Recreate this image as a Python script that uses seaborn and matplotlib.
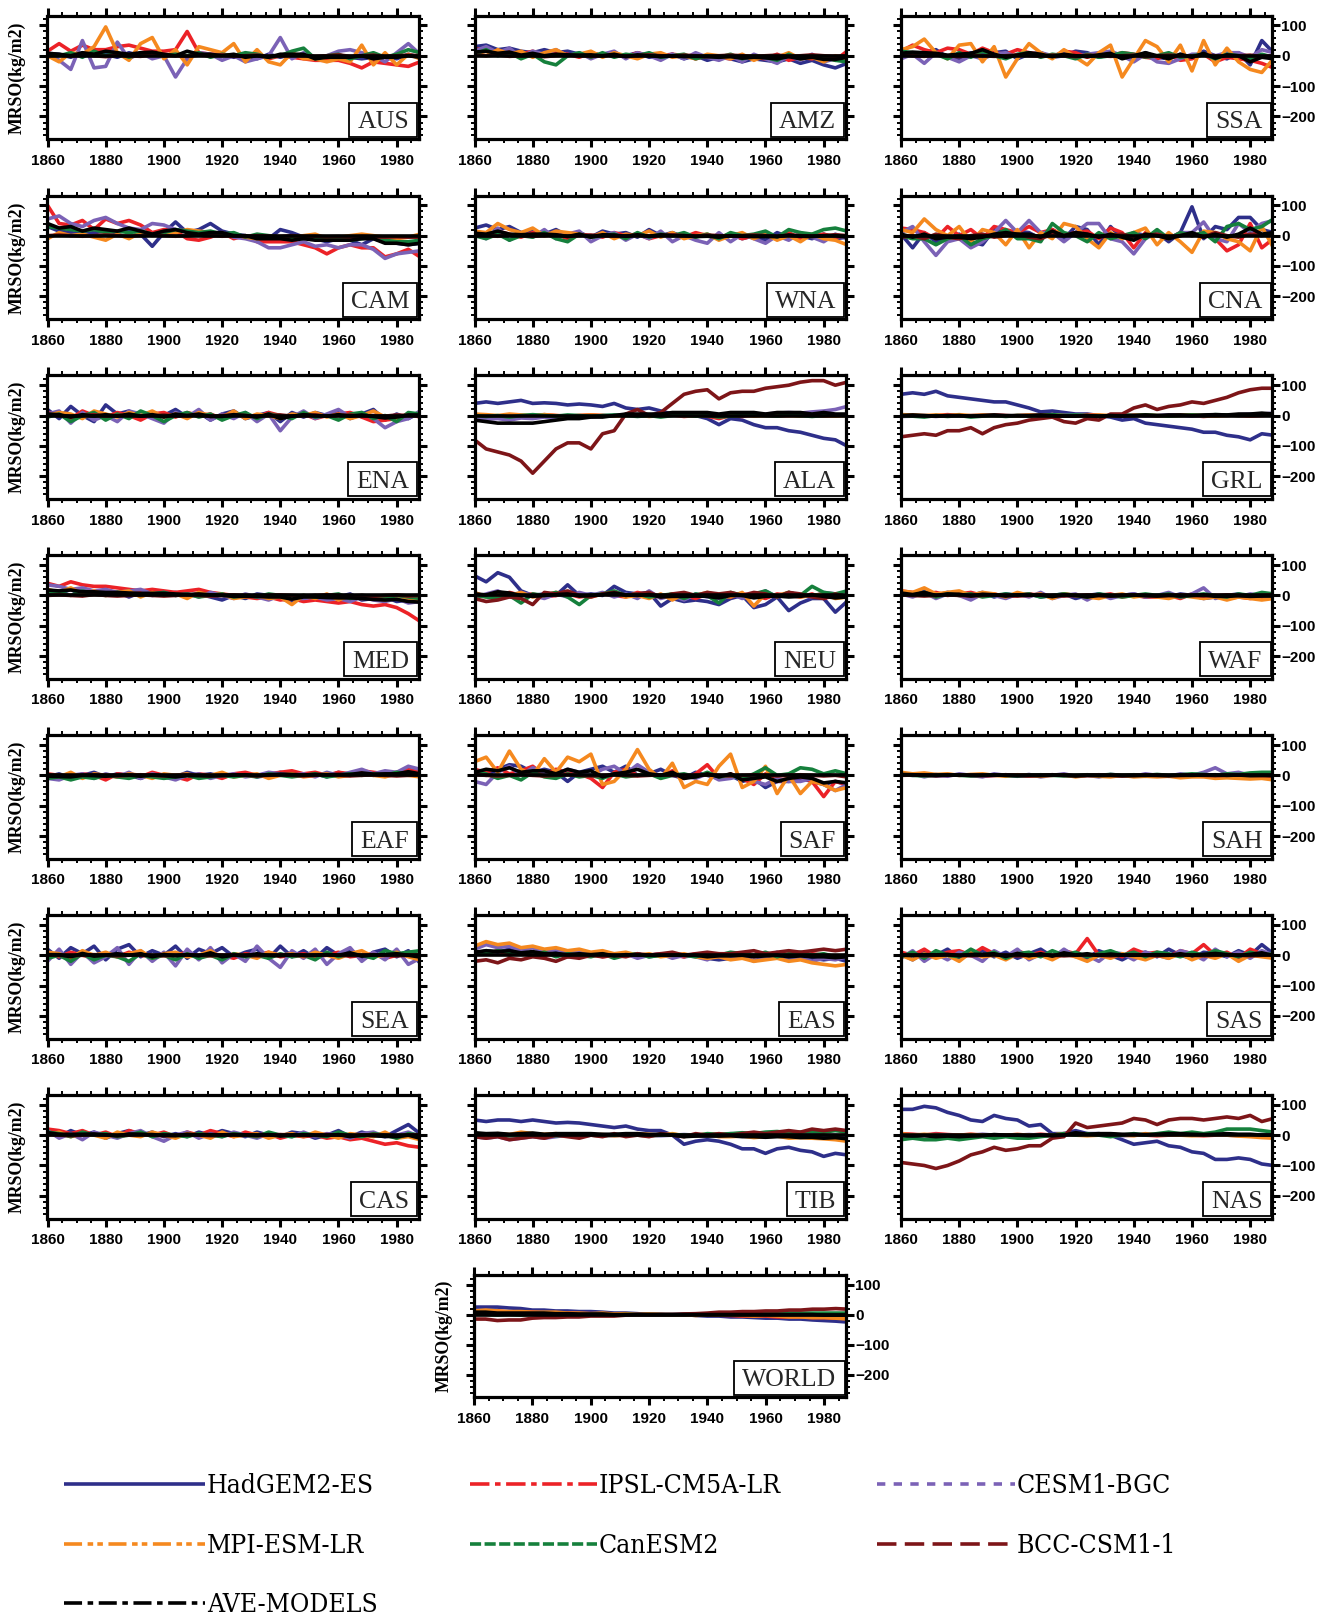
import numpy as np
import pandas as pd
import matplotlib
matplotlib.use("Agg")
import matplotlib.pyplot as plt
import seaborn as sns
from matplotlib.ticker import MultipleLocator
from matplotlib.patches import Rectangle

# ---------------- data (kg/m2 anomalies, sampled every 4 years) ----------------
YEARS = list(range(1860, 1989, 4))
MODELS = ["HadGEM2-ES", "IPSL-CM5A-LR", "CESM1-BGC", "MPI-ESM-LR", "CanESM2", "BCC-CSM1-1", "AVE-MODELS"]
KEYS = ["HAD", "IPSL", "CESM", "MPI", "CAN", "BCC", "AVE"]
REGIONS = ["AUS", "AMZ", "SSA", "CAM", "WNA", "CNA", "ENA", "ALA", "GRL", "MED", "NEU", "WAF",
           "EAF", "SAF", "SAH", "SEA", "EAS", "SAS", "CAS", "TIB", "NAS", "WORLD"]

AUS_HAD = [8,5,-5,10,0,5,-5,10,0,5,0, 5,-5,10,0,5,-5,0,-10,5,-5,5, 0,-5,-10,0,-5,-10,-5,0,-10,5,-5]
AUS_IPSL = [15,40,15,35,20,20,30,35,25,15,15, 20,80,10,5,5,0,-5,5,-10,0,-5, -10,-15,-15,-15,-25,-40,-20,-25,-30,-35,-20]
AUS_CESM = [10,-15,-45,50,-40,-35,45,-10,10,-10,0, -70,-10,10,5,-15,0,-20,-10,0,60,-10, 10,-5,0,15,20,10,0,-20,10,40,5]
AUS_MPI = [0,-20,10,5,30,95,10,-15,40,60,-10, 20,-30,30,20,10,40,-20,20,-20,-30,10, -10,-10,-20,-10,-20,35,-30,10,-30,5,-10]
AUS_CAN = [5,0,10,-5,15,0,10,-5,5,10,0, 5,0,10,-5,5,0,10,5,-5,0,15, 25,-10,0,5,-10,0,10,-5,5,20,10]
AUS_BCC = [0,2,-2,3,0,-3,2,0,-2,3,0, 0,-2,2,0,3,-2,0,2,-3,0,2, 0,-2,0,3,-2,0,2,-3,0,2,0]
AUS_AVE = [8,5,0,10,5,15,10,5,10,12,5, 0,15,5,5,0,5,-5,0,-5,5,5, 5,-10,-5,-5,-5,0,-10,-5,-5,0,-5]

AMZ_HAD = [30,35,20,25,15,10,20,10,15,5,10, 0,5,0,10,-5,0,5,-10,0,-15,-5, -10,-20,-10,-15,-20,-10,-25,-15,-30,-40,-25]
AMZ_IPSL = [20,25,10,15,5,15,0,10,5,-5,10, 0,5,-5,10,0,-5,5,0,-10,0,-5, -10,0,-5,-10,5,-15,-5,-10,0,-15,15]
AMZ_CESM = [15,30,10,25,-5,15,5,20,0,10,-10, 5,15,-10,10,0,-15,5,-10,10,-5,-15, 0,-20,5,-10,-25,0,-15,5,-20,-10,0]
AMZ_MPI = [10,0,20,5,15,-5,10,20,0,5,15, -5,10,0,-10,5,10,-5,0,-10,5,0, -10,5,-15,0,-5,10,-10,-5,-20,0,-10]
AMZ_CAN = [5,20,0,10,-10,5,-20,-30,0,10,-5, 10,-5,5,0,10,-5,0,5,-10,0,-5, 5,-10,0,-5,-15,5,-10,0,-5,-15,-20]
AMZ_BCC = [2,0,3,-2,0,2,-3,0,2,0,-2, 0,2,-2,0,3,0,-2,2,0,-3,0, 2,0,-2,0,2,-2,0,3,0,-2,0]
AMZ_AVE = [12,15,8,12,2,8,0,5,3,2,3, 0,5,-3,3,0,-3,0,-3,-2,-3,-5, -3,-8,-5,-7,-10,-3,-10,-5,-12,-12,-5]

SSA_HAD = [5,0,10,20,-5,-10,10,5,10,15,-10, 5,10,-5,0,15,10,-5,5,0,-10,10, -5,-10,5,-5,15,0,-10,10,-30,50,10]
SSA_IPSL = [15,35,20,10,25,20,5,25,10,5,20, 10,5,-5,15,10,-5,5,0,10,5,-5, -10,5,-15,-10,5,-20,-5,-10,-15,-25,-40]
SSA_CESM = [-10,5,-25,10,-5,-20,0,-10,5,10,-5, 5,10,0,10,-5,5,10,15,0,-20,5, -20,-25,-10,5,5,0,10,10,-5,20,10]
SSA_MPI = [20,30,55,10,-10,35,40,-20,30,-70,-10, 40,10,-10,20,-5,-30,10,35,-70,-10,50, 30,-20,35,-50,50,-30,25,-20,-45,-55,-10]
SSA_CAN = [15,10,0,5,-10,10,-5,15,0,-10,5, 10,-5,5,0,-10,5,-5,0,10,5,-5, 0,10,-5,0,5,-10,5,0,-10,5,-5]
SSA_BCC = [3,0,-2,2,0,-3,2,0,-2,0,3, 0,-2,2,0,-3,2,0,-2,0,2,-3, 0,2,0,-2,3,0,-2,0,2,-3,0]
SSA_AVE = [8,12,10,8,2,5,8,20,5,-5,2, 10,5,-3,5,0,-3,3,8,-10,0,10, 0,-10,5,-5,8,-8,3,0,-20,-5,-10]

CAM_HAD = [30,15,10,5,10,15,10,20,5,-35,10, 45,10,20,40,15,5,0,-10,-10,20,10, -5,-10,-20,-10,-15,-30,-10,-20,-25,-30,-25]
CAM_IPSL = [100,40,35,50,20,55,40,50,35,10,20, 15,-10,-15,-5,10,-10,0,-20,-20,-20,-20, -30,-40,-60,-40,-30,-40,-40,-70,-60,-45,-70]
CAM_CESM = [55,65,40,30,50,60,40,25,20,40,35, 20,15,10,5,10,-5,-10,-20,-40,-40,-30, -20,-35,-30,-40,-30,-30,-45,-75,-60,-55,-50]
CAM_MPI = [-10,10,0,5,-5,-15,5,-10,10,0,5, 10,20,15,10,0,5,-5,-10,-5,-5,-10, 0,5,-10,-5,0,5,0,-5,-10,-5,5]
CAM_CAN = [30,25,20,15,20,10,15,10,15,5,10, 20,15,10,15,5,10,-5,5,0,-5,-10, -5,-10,-15,-10,-15,-10,-5,-15,-20,-20,-15]
CAM_BCC = [0,2,0,-2,0,2,0,-2,0,2,0, -2,0,2,0,-2,0,-3,0,-2,-3,0, -3,-2,-4,-3,-5,-3,-4,-5,-4,-5,-5]
CAM_AVE = [40,25,30,15,25,20,15,25,15,5,15, 20,10,5,10,10,0,0,-10,-10,-10,-15, -10,-15,-15,-15,-15,-10,-10,-25,-25,-30,-25]

WNA_HAD = [25,35,20,30,10,15,5,20,0,10,-5, 15,5,10,-5,20,0,10,-5,5,0,-10, 5,-10,0,-15,10,-5,0,-10,5,-10,-5]
WNA_IPSL = [10,0,15,5,-5,10,0,5,-10,5,0, -5,10,0,5,-10,0,5,-5,10,0,-5, 5,-10,0,5,-5,10,-10,0,5,-5,0]
WNA_CESM = [5,-10,25,-15,10,-5,20,-10,5,15,-20, 0,10,-15,5,-10,15,-20,0,-15,-25,10, -20,5,-10,-25,0,-15,10,-5,-20,5,-10]
WNA_MPI = [15,10,40,20,10,25,0,15,10,5,-5, 10,-10,5,0,15,-5,10,-10,0,5,-15, 0,10,-10,5,-15,0,-20,5,-10,-15,-30]
WNA_CAN = [0,-10,5,-15,0,-5,10,-10,-20,5,-5, 0,5,-10,10,-5,5,0,10,-5,5,-10, 10,0,5,15,-5,20,10,5,20,25,15]
WNA_BCC = [2,0,-2,3,0,-2,0,2,-3,0,2, 0,-2,0,2,-2,0,3,0,-2,2,0, -2,0,2,0,-3,2,0,-2,0,3,0]
WNA_AVE = [8,5,15,5,3,5,5,3,-3,5,-5, 3,2,-2,3,-2,3,0,0,-3,-2,-5, 0,-2,-3,-3,-3,2,-2,-3,0,0,-5]

CNA_HAD = [5,-40,10,-20,-10,5,-20,-30,20,10,15, 10,-10,20,-10,30,20,-30,30,-10,10,0, 10,-20,10,95,-10,30,20,60,60,20,10]
CNA_IPSL = [25,20,10,-10,30,0,20,-10,30,20,10, 30,10,20,0,10,15,-10,25,10,-40,10, 0,-10,10,0,10,-10,-50,-30,40,-40,-10]
CNA_CESM = [10,30,-20,-65,-20,-10,-40,-20,10,50,10, 50,10,10,-20,10,40,40,-10,-20,-60,-10, 10,-10,10,10,45,-10,-20,40,10,40,50]
CNA_MPI = [20,10,55,20,0,30,-20,20,10,-30,20, -40,10,-10,40,30,-10,-40,10,-10,10,25, -30,10,-20,-55,15,10,-10,-20,-50,30,-40]
CNA_CAN = [0,-10,-10,-30,-10,0,-30,-10,0,20,-10, -10,-20,40,10,0,-20,10,-10,0,10,-10, 20,-10,10,0,10,-20,30,40,20,30,55]
CNA_BCC = [-5,0,-10,5,-5,-10,0,5,-5,0,5, -5,-10,5,0,10,5,-5,0,5,-5,0, 5,-5,0,5,-5,10,0,-5,5,0,10]
CNA_AVE = [5,-5,5,-10,-5,-5,-10,-5,5,10,5, 5,-5,15,0,10,5,-5,5,-5,-15,5, 0,-10,0,10,-5,5,-5,5,25,5,10]

ENA_HAD = [20,-10,30,0,-20,35,5,15,-10,10,0, 20,-5,10,-15,5,15,-10,0,10,-20,10, -5,10,0,15,-10,5,20,-15,5,-10,10]
ENA_IPSL = [10,5,-10,15,0,-5,10,0,-15,5,10, -5,10,0,5,-10,5,0,-5,10,0,-5, 5,-10,0,5,10,-5,-20,-15,-10,5,-5]
ENA_CESM = [5,15,-25,10,-15,0,-20,15,5,-10,-25, 10,-5,20,-15,5,-10,10,-20,5,-50,-5, 15,-10,5,20,-5,10,-10,-40,-20,-10,15]
ENA_MPI = [0,10,5,-10,15,5,-5,10,0,15,-5, 5,-10,10,0,-5,15,-10,5,0,-10,5, 0,10,-5,5,-10,0,15,-5,-10,5,0]
ENA_CAN = [-5,5,-20,0,10,-15,5,-10,15,0,-20, 0,10,-5,5,-15,0,10,-10,5,0,-10, 10,-5,0,-15,5,10,-10,0,-20,10,5]
ENA_BCC = [2,0,-2,0,3,-2,0,2,-2,0,2, -2,0,2,-3,0,2,0,-2,0,2,-2, 0,2,-2,0,2,-3,0,-2,2,0,-2]
ENA_AVE = [5,3,-5,3,-2,3,-2,5,-2,3,-5, 5,0,5,-3,-3,3,0,-5,5,-10,-2, 3,0,-2,3,-2,2,-3,-8,-5,2,2]

ALA_HAD = [40,45,40,45,50,40,42,40,35,38,35, 30,40,25,20,25,15,5,5,0,-10,-30, -10,-15,-30,-40,-40,-50,-55,-65,-75,-80,-100]
ALA_IPSL = [3,0,-3,2,0,-2,3,0,-2,0,2, 0,-2,3,0,-2,0,2,-3,0,-2,-10, 0,-3,2,0,-2,0,3,0,-2,0,2]
ALA_CESM = [-15,-12,-10,-15,-8,-10,-5,-8,-5,-3,-5, 0,0,3,0,2,0,3,0,2,3,0, 5,5,3,5,8,10,8,12,15,20,30]
ALA_MPI = [5,3,0,5,2,0,3,0,-2,0,2, 0,-2,0,2,-3,0,2,0,-2,0,-2, 0,2,-2,0,2,0,-2,2,0,-2,0]
ALA_CAN = [0,-3,0,-5,0,3,0,-2,2,0,-3, 0,2,0,-3,0,-5,0,2,-2,0,-5, -2,0,3,0,-2,2,0,-3,0,2,0]
ALA_BCC = [-80,-110,-120,-130,-150,-190,-150,-110,-90,-90,-110, -60,-50,5,20,0,10,40,70,80,85,55, 75,80,80,90,95,100,110,115,115,100,110]
ALA_AVE = [-15,-20,-25,-25,-25,-25,-20,-15,-10,-10,-5, -5,0,5,5,5,5,10,10,10,10,5, 10,10,10,5,10,10,10,5,10,5,5]

GRL_HAD = [70,75,70,80,65,60,55,50,45,45,35, 25,12,15,10,5,5,0,-5,-15,-10,-25, -30,-35,-40,-45,-55,-55,-65,-70,-80,-60,-65]
GRL_IPSL = [2,0,-2,0,3,0,-2,0,2,0,-2, 0,2,0,-2,0,3,0,-2,0,2,0, -2,0,2,0,-3,0,2,0,-2,0,2]
GRL_CESM = [-3,-2,0,-3,0,-2,0,2,0,-2,0, 2,0,-2,0,3,0,-2,0,2,0,-2, 0,2,0,-2,0,2,0,3,5,5,8]
GRL_MPI = [3,2,0,2,0,3,0,2,0,-2,0, 2,0,3,0,-2,0,2,0,-2,0,2, 0,-2,0,2,0,-2,0,2,0,3,0]
GRL_CAN = [0,-2,-5,0,-3,0,-5,-2,0,-3,0, -2,0,3,0,2,0,-2,0,3,0,2, 0,-2,0,2,0,3,2,0,3,2,0]
GRL_BCC = [-70,-65,-60,-65,-50,-50,-40,-60,-40,-30,-25, -15,-10,-5,-20,-25,-10,-15,5,5,25,35, 20,30,35,45,40,50,60,75,85,90,90]
GRL_AVE = [0,2,0,-2,0,0,-2,0,2,0,0, 0,2,0,-2,-2,0,-3,0,-2,0,2, 0,2,2,0,2,3,2,5,5,8,5]

MED_HAD = [10,5,20,0,15,5,10,-5,10,0,5, 10,0,5,-5,-15,0,-10,5,0,-10,-20, -5,0,-10,-5,5,-15,-10,-5,-20,-15,-10]
MED_IPSL = [40,30,45,35,30,30,25,20,15,20,15, 10,15,20,10,5,0,-5,-10,-5,-15,-10, -20,-15,-20,-25,-20,-30,-35,-30,-40,-60,-85]
MED_CESM = [35,30,20,25,15,20,10,15,20,5,10, 0,5,-5,10,0,-10,5,-5,-15,0,-10, -10,-5,-15,-10,-20,-5,-15,-20,-10,-25,-20]
MED_MPI = [20,10,25,5,15,0,10,15,-5,10,0, 5,-10,10,0,5,-10,-5,0,-10,-5,-30, 0,-10,5,-15,0,-10,-5,-15,0,-10,-15]
MED_CAN = [5,10,0,15,5,0,10,5,0,5,10, 0,5,-5,0,5,-5,0,-5,5,0,-5, 0,-5,0,5,-10,0,-5,-10,0,-5,-10]
MED_BCC = [0,2,0,-2,3,0,-2,0,2,0,-2, 0,3,0,-2,0,2,0,-3,0,2,0, -2,0,2,0,-2,0,-3,0,2,-2,0]
MED_AVE = [18,15,18,12,12,10,10,8,7,7,7, 5,3,5,2,0,-3,-3,-3,-5,-5,-12, -5,-5,-7,-8,-8,-10,-13,-15,-13,-20,-22]

NEU_HAD = [65,45,75,60,15,0,5,0,35,0,5, 0,30,10,5,10,-35,-10,-20,-15,-20,-30, -10,0,-40,-30,-5,-50,-25,-10,-10,-55,-20]
NEU_IPSL = [5,0,-5,10,0,5,-5,0,5,-5,0, 5,0,-5,10,0,-5,5,0,-10,5,0, -5,5,0,-10,5,0,-5,5,-10,0,-5]
NEU_CESM = [-10,5,15,-5,10,0,-10,5,-5,10,0, 10,-5,5,-10,15,-10,0,-15,5,-5,-10, 5,-10,0,15,-5,10,0,-5,10,5,-5]
NEU_MPI = [10,-5,5,0,10,-5,0,10,5,0,-5, 5,10,-5,0,-10,5,-15,5,0,10,0, -5,10,-35,5,0,10,-5,0,5,-10,-5]
NEU_CAN = [0,-5,-10,0,-25,5,0,10,-5,-30,0, 5,15,0,5,-5,0,5,-10,5,0,-25, 10,0,5,15,-5,10,0,30,10,5,15]
NEU_BCC = [-10,-20,-15,-5,-10,-30,10,5,15,0,-5, 5,10,0,5,10,-5,5,10,0,10,5, 10,0,10,5,-5,10,5,-5,-10,5,-5]
NEU_AVE = [5,2,12,8,0,-3,0,3,5,-2,0, 3,8,2,0,3,-5,-3,-3,-2,-3,-8, 0,0,-8,-3,-2,-5,-3,2,-3,-8,-5]

WAF_HAD = [10,5,15,0,10,5,0,10,-5,5,0, 5,-5,0,5,-10,0,5,-5,0,5,-5, 0,-5,5,0,-10,-5,0,5,-5,-10,-5]
WAF_IPSL = [15,10,5,10,0,5,10,0,5,-5,0, 5,0,-5,5,0,-5,0,5,-5,0,-5, -5,0,-10,5,-5,0,-10,-5,-10,-5,-10]
WAF_CESM = [5,-5,10,-10,5,0,-15,5,0,-10,5, -5,10,-10,0,5,-15,5,-10,0,5,-5, 0,10,-5,5,25,-10,0,-5,5,0,-5]
WAF_MPI = [15,10,25,5,10,15,0,10,5,-5,10, 0,5,-10,5,0,-5,-10,0,5,-5,0, -5,-10,0,-5,-10,-5,-15,-5,-10,-15,-10]
WAF_CAN = [5,0,10,-5,5,0,5,-5,0,5,0, 5,-5,0,5,0,-5,5,0,-5,0,5, 0,5,-5,0,5,0,-5,5,0,10,5]
WAF_BCC = [2,0,-2,0,2,0,-2,0,2,0,-2, 0,2,0,-2,0,2,0,-2,0,2,0, -2,0,2,0,-2,0,2,0,-2,0,2]
WAF_AVE = [8,3,10,0,5,4,-2,4,2,-2,2, 1,1,-4,2,0,-5,0,-2,0,1,-1, -2,0,-2,0,2,-3,-3,-1,-3,-2,-2]

EAF_HAD = [-5,5,-10,0,10,-5,5,0,-10,5,0, -5,10,0,5,-5,0,5,-5,0,10,5, 0,5,-5,10,0,5,0,10,5,15,5]
EAF_IPSL = [5,0,-10,5,0,-15,5,0,-5,10,0, -5,-15,5,0,-10,5,10,0,5,10,15, 5,10,0,10,5,15,10,5,10,20,10]
EAF_CESM = [-10,-15,0,5,-10,5,-5,10,-10,5,-5, -15,0,5,-10,0,5,-5,0,10,5,0, 5,-5,10,0,10,20,5,15,10,30,20]
EAF_MPI = [0,-5,10,-10,5,0,-5,5,0,-10,5, 0,5,-5,0,10,-5,0,5,-10,0,5, -5,0,5,-5,0,5,0,-5,5,0,-5]
EAF_CAN = [-10,-5,-15,-5,-10,0,-5,-10,0,-5,-10, -5,0,-10,-5,0,-5,0,-5,5,0,-5, 0,5,-5,0,5,0,5,0,10,5,0]
EAF_BCC = [2,0,-2,0,2,0,-2,0,2,0,-2, 0,2,0,-2,0,2,0,-2,0,2,0, -2,0,2,0,-2,0,2,0,-2,0,2]
EAF_AVE = [-3,-4,-5,0,-1,-3,0,1,-3,1,-1, -5,-1,-1,-2,-1,1,2,-1,2,4,3, 1,3,2,3,3,8,4,5,5,12,5]

SAF_HAD = [10,0,20,35,30,10,20,10,-20,10,20, 30,10,30,0,5,20,0,-10,10,0,-10, 0,-20,-10,-40,-20,-20,-10,-20,-30,-20,-30]
SAF_IPSL = [20,10,25,5,15,30,0,20,10,5,-10, -40,10,20,0,10,-5,15,-10,5,35,-10, 5,-10,-30,5,-20,-10,-5,-20,-70,-20,-30]
SAF_CESM = [-20,-30,10,30,0,25,10,5,20,10,0, 20,30,5,35,10,-5,5,0,-10,5,-15, -10,0,-20,-30,-10,-20,-20,-10,-30,-50,-30]
SAF_MPI = [45,60,10,80,20,0,55,10,60,45,70, -30,-20,20,85,20,-10,40,-40,-20,-30,30, 70,-40,-20,30,-60,0,-60,-20,-30,-50,-40]
SAF_CAN = [10,5,-10,0,-15,10,-5,-10,5,-5,0, -10,5,-5,0,5,-10,0,5,-5,10,-5, 0,-10,5,25,0,5,25,20,5,15,5]
SAF_BCC = [2,0,-2,0,2,0,-2,0,2,0,-2, 0,2,0,-2,0,2,0,-2,0,2,0, -2,0,2,0,-2,0,2,0,-2,0,-5]
SAF_AVE = [10,20,15,25,10,15,15,5,20,10,15, -5,5,10,20,5,0,10,-10,-5,5,-5, 5,-15,-10,-5,-20,-10,-5,-10,-25,-20,-25]

SAH_HAD = [3,0,2,-2,0,2,0,-2,0,2,0, -2,0,2,0,-2,0,2,0,-2,0,2, 0,-2,0,2,0,-2,0,2,0,-2,0]
SAH_IPSL = [5,3,5,0,3,0,2,-2,0,2,0, -2,0,2,0,-2,0,-3,0,-2,0,-3, 0,-3,0,-2,-3,0,-2,-3,0,-2,-3]
SAH_CESM = [0,5,-5,3,-3,5,0,-5,5,0,-3, 3,-5,0,5,-3,0,-5,3,0,-3,5, 0,-3,5,0,10,25,5,10,0,5,3]
SAH_MPI = [10,5,8,3,5,0,3,5,0,-3,2, 0,-3,0,2,-5,0,-3,-5,0,-5,-3, -5,-3,-8,-5,-5,-10,-8,-10,-12,-10,-15]
SAH_CAN = [2,0,-2,0,2,0,-2,0,2,0,-2, 0,2,0,-2,0,2,0,3,0,2,0, 3,0,2,5,3,0,5,3,8,10,10]
SAH_BCC = [0,1,0,-1,0,1,0,-1,0,1,0, -1,0,1,0,-1,0,1,0,-1,0,1, 0,-1,0,1,0,-1,0,1,0,-1,0]
SAH_AVE = [3,2,1,0,1,1,0,0,1,0,-1, 0,-1,1,1,-2,0,-1,0,-1,-1,0, 0,-1,0,0,1,2,0,1,-1,0,-1]

SEA_HAD = [20,-10,25,5,30,-15,20,35,-5,15,0, 30,-10,20,5,25,-5,10,20,-10,30,-5, 15,-10,25,0,20,-15,10,20,-5,15,-25]
SEA_IPSL = [5,-5,10,0,-10,5,-5,10,0,-5,5, 0,10,-5,5,0,-10,5,0,10,-5,0, 5,-5,0,10,-5,0,5,-10,0,5,-5]
SEA_CESM = [-20,20,-30,10,-25,-5,25,-30,15,-20,10, -35,20,-15,25,-25,5,-20,30,-10,-40,15, -10,20,-30,5,25,-20,10,-15,20,-30,-10]
SEA_MPI = [10,5,-10,15,0,10,-5,5,15,-10,5, 10,-5,0,15,-10,5,0,-10,10,0,5, -5,10,0,-10,5,15,-5,0,10,-5,-15]
SEA_CAN = [-10,0,-20,5,-15,0,-5,-20,5,-10,0, -15,5,-10,0,-15,5,-5,0,-10,5,-5, 0,-15,10,-5,5,0,-10,15,5,10,15]
SEA_BCC = [2,0,-2,0,2,0,-2,0,2,0,-2, 0,2,0,-2,0,2,0,-2,0,2,0, -2,0,2,0,-2,0,2,0,-2,0,2]
SEA_AVE = [2,2,-5,6,-3,0,5,0,5,-5,3, -2,2,-2,8,-5,0,-2,5,-1,-2,2, 0,0,2,0,8,-3,1,2,5,0,-6]

EAS_HAD = [5,15,10,20,5,10,0,10,-5,5,0, 5,-5,0,5,-5,0,5,-5,0,-10,-15, -10,-5,0,-10,-5,-15,-5,-10,-15,-10,-20]
EAS_IPSL = [10,5,15,0,10,5,0,5,-5,0,5, -5,0,5,-5,0,5,0,-5,5,0,-5, 0,5,-5,0,5,0,-5,5,0,-5,0]
EAS_CESM = [20,35,25,30,15,25,10,20,5,15,0, 10,-5,5,-10,0,5,-10,0,-5,-15,5, -10,0,-20,-5,10,-15,-5,-20,-10,-15,-5]
EAS_MPI = [30,45,35,40,25,30,20,25,15,20,10, 15,5,10,0,5,-5,0,5,-5,-10,-5, -15,-10,-20,-15,-10,-20,-15,-25,-30,-35,-30]
EAS_CAN = [10,5,15,10,5,0,10,-5,5,0,-5, 5,-10,0,5,-5,0,5,0,-5,5,0, 10,5,0,10,-5,5,10,0,5,-5,0]
EAS_BCC = [-20,-15,-25,-10,-15,-5,-10,-20,-5,-10,0, -5,0,-5,5,0,5,10,0,5,10,5, 5,10,15,5,10,15,10,15,20,15,20]
EAS_AVE = [10,15,12,15,8,12,5,6,2,5,2, 5,-2,2,0,0,0,0,0,0,-5,-2, -2,0,-5,-2,0,-5,-2,-5,-5,-8,-5]

SAS_HAD = [5,-15,10,0,20,-10,5,15,-5,10,-10, 5,20,-5,10,0,-10,15,0,-15,5,10, -5,20,0,-10,10,5,-5,15,0,35,5]
SAS_IPSL = [10,0,20,-5,10,15,0,25,5,-10,15, 0,10,-5,15,5,55,0,10,-5,20,5, 10,-5,15,5,35,0,10,-10,20,5,-10]
SAS_CESM = [-10,15,-20,5,-15,10,0,-20,15,-5,20, -15,5,-10,20,-5,0,-20,10,5,-15,10, 0,-10,15,5,-15,20,-5,10,-10,15,0]
SAS_MPI = [0,-15,5,-10,0,-20,10,-5,0,-15,5, -10,0,-15,5,-5,-20,0,-10,5,-5,-15, 0,-10,5,-15,0,-10,5,-20,0,-5,-10]
SAS_CAN = [-5,10,-10,15,0,-5,20,0,10,-10,5, 10,-5,15,0,10,-5,5,15,0,10,-5, 10,5,-5,10,0,15,5,-5,10,0,5]
SAS_BCC = [2,0,-2,0,2,0,-2,0,2,0,-2, 0,2,0,-2,0,2,0,-2,0,2,0, -2,0,2,0,-2,0,2,0,-2,0,2]
SAS_AVE = [0,-1,2,1,3,-2,3,3,5,-4,6, -2,5,-3,8,1,5,-1,4,0,0,1, 2,0,5,-1,3,6,2,-1,3,8,-1]

CAS_HAD = [10,-5,15,0,10,-10,5,15,0,10,-5, 5,-5,10,0,15,5,-5,10,0,-5,10, 5,-10,0,15,-5,10,0,-5,15,35,5]
CAS_IPSL = [20,15,5,15,0,10,-5,15,5,0,10, -5,10,0,15,5,-5,10,0,5,-10,0, -5,0,-10,-5,-15,-10,-20,-30,-25,-35,-40]
CAS_CESM = [15,-10,5,-15,10,0,-10,5,15,-5,-20, 0,10,-10,5,-5,10,0,-10,5,0,-5, 10,-5,5,0,-10,5,10,-5,0,10,-5]
CAS_MPI = [0,10,-5,5,0,-10,10,0,-5,10,0, -10,5,0,-10,10,-5,0,5,-10,0,5, -5,10,0,-10,5,0,-5,10,-10,-5,-15]
CAS_CAN = [10,5,-5,10,0,5,-5,0,10,-5,5, 0,-5,5,0,-5,5,0,-5,10,0,-5, 5,0,-5,10,0,-5,5,0,-10,5,0]
CAS_BCC = [2,0,-2,0,2,0,-2,0,2,0,-2, 0,2,0,-2,0,2,0,-2,0,2,0, -2,0,2,0,-2,0,2,0,-2,0,2]
CAS_AVE = [8,3,3,3,4,1,-2,4,3,2,-1, -2,3,1,2,1,2,1,0,2,-3,1, 1,-1,-1,2,-5,0,-2,-4,-5,0,-10]

TIB_HAD = [50,45,50,50,45,50,45,40,42,40,35, 30,25,30,20,15,15,0,-30,-20,-15,-20, -30,-45,-45,-60,-45,-40,-50,-55,-70,-60,-65]
TIB_IPSL = [5,0,3,-2,0,2,0,-2,0,2,0, -2,0,2,0,-2,0,2,0,-2,0,2, 0,-2,0,2,0,-2,0,2,0,-2,0]
TIB_CESM = [-5,-10,-5,-15,-10,-5,-10,-5,0,-5,0, 0,-2,0,2,0,-2,0,2,0,-2,0, 5,2,5,3,5,2,0,3,-2,0,-5]
TIB_MPI = [5,0,5,2,10,5,3,5,0,3,0, 2,-2,0,5,3,0,5,-2,0,3,-5, -5,-3,-8,-5,-3,-10,-8,-10,-12,-15,-20]
TIB_CAN = [0,3,0,-2,0,2,0,-2,0,2,0, -2,0,2,0,-2,0,2,0,-2,5,3, 5,8,5,10,12,8,10,12,10,15,10]
TIB_BCC = [-5,-10,-5,-15,-10,-5,-10,0,-5,-10,0, -5,5,-5,0,-5,5,0,-5,5,0,5, 0,5,10,5,10,15,10,20,15,20,15]
TIB_AVE = [8,5,6,3,5,7,3,5,5,5,5, 3,3,5,5,2,3,0,-5,-3,-3,-3, -2,-5,-5,-7,-5,-5,-8,-7,-10,-8,-12]

NAS_HAD = [85,85,95,90,75,65,50,45,65,55,50, 30,35,5,5,15,5,5,0,-15,-30,-25, -20,-35,-40,-55,-60,-80,-80,-75,-80,-95,-100]
NAS_IPSL = [5,3,0,5,2,0,3,0,-2,0,2, 0,3,0,5,0,2,0,3,0,2,0, -2,0,2,0,-2,0,2,0,-2,0,-3]
NAS_CESM = [0,-3,0,2,0,-2,0,3,0,-2,0, 2,0,-2,0,2,0,3,0,-2,0,2, 0,2,0,3,0,2,0,-2,0,2,0]
NAS_MPI = [5,0,3,0,-2,0,2,0,-2,0,2, 0,-3,0,5,0,-2,0,3,0,-2,5, 0,2,0,-2,0,2,0,-3,-5,-8,-10]
NAS_CAN = [-15,-10,-15,-15,-10,-15,-10,-5,-10,-5,-10, -10,-5,0,5,0,5,0,-5,0,5,0, 5,10,5,10,5,10,20,20,20,15,10]
NAS_BCC = [-90,-95,-100,-110,-100,-85,-65,-55,-40,-50,-45, -35,-35,-10,-5,40,25,30,35,40,55,50, 35,50,55,55,50,55,60,55,65,45,55]
NAS_AVE = [-2,-3,-2,-5,-3,-5,-3,-2,2,0,0, -2,0,-2,0,8,3,5,5,3,3,2, 3,5,5,3,2,3,5,3,3,0,0]

WORLD_HAD = [25,25,25,22,20,15,15,12,12,10,10, 8,5,5,3,0,0,-2,0,-3,-5,-5, -8,-8,-10,-12,-12,-15,-15,-18,-20,-22,-25]
WORLD_IPSL = [12,10,12,8,8,8,5,5,5,3,3, 2,2,0,0,0,0,0,-2,0,-2,-2, -3,-5,-5,-5,-8,-8,-8,-10,-10,-12,-12]
WORLD_CESM = [5,5,3,5,3,2,3,2,0,2,0, 0,2,0,0,-2,0,0,2,0,0,2, 0,2,0,2,3,0,2,0,2,0,-2]
WORLD_MPI = [12,15,12,10,10,8,8,8,5,5,3, 5,2,3,0,2,0,-2,0,-3,0,-2, -2,-3,-5,-3,-5,-8,-8,-10,-10,-12,-15]
WORLD_CAN = [0,0,-2,0,-2,0,-2,0,0,-2,0, 0,-2,0,0,0,0,0,0,2,0,2, 2,2,3,3,5,5,5,5,5,5,5]
WORLD_BCC = [-15,-15,-20,-18,-18,-12,-10,-10,-8,-8,-5, -5,-5,-2,0,0,0,0,2,3,5,8, 8,10,10,12,12,15,15,18,18,20,18]
WORLD_AVE = [8,8,5,5,5,5,5,3,3,2,2, 2,0,0,0,0,0,0,0,0,0,0, 0,0,0,0,0,0,0,0,-2,-2,-2]

SERIES = {}
for reg in REGIONS:
    lst = []
    for k in KEYS:
        v = globals()[f"{reg}_{k}"]
        assert len(v) == len(YEARS), f"{reg}_{k} has {len(v)}"
        lst.append(v)
    SERIES[reg] = lst

# ---------------- style ----------------
COLORS = ["#2e2f8a", "#ec2227", "#7b62b6", "#f5891f", "#15803c", "#7d1518", "#000000"]
LEG_STYLES = ["-", (0, (14, 4, 4, 4)), (0, (6, 6)), (0, (13, 4, 4, 3, 4, 4)),
              (0, (8, 2.5)), (0, (14, 6)), (0, (13, 4, 4, 4))]

sns.set_theme(style="ticks")
plt.rcParams.update({
    "font.family": ["Liberation Sans", "DejaVu Sans"],
    "font.weight": "bold",
    "axes.linewidth": 2.3,
    "axes.edgecolor": "black",
    "lines.scale_dashes": False,
    "figure.facecolor": "white",
    "axes.facecolor": "white",
})

W, H = 1337, 1617
fig = plt.figure(figsize=(W / 100, H / 100), dpi=100)
renderer = fig.canvas.get_renderer()


def add_ax(left, top, w, h):
    return fig.add_axes([left / W, 1 - (top + h) / H, w / W, h / H])


def draw_panel(ax, reg, geom, ylabel, rlabels):
    df = pd.DataFrame({
        "year": YEARS * len(MODELS),
        "value": [v for s in SERIES[reg] for v in s],
        "model": np.repeat(MODELS, len(YEARS)),
    })
    sns.lineplot(data=df, x="year", y="value", hue="model", hue_order=MODELS,
                 palette=COLORS, estimator=None, legend=False, linewidth=2.6, ax=ax)
    ax.axhline(0, color="black", lw=2.6, zorder=3)
    ax.set_xlim(1860, 1987.5)
    ax.set_ylim(-275, 132)
    ax.xaxis.set_major_locator(MultipleLocator(20))
    ax.xaxis.set_minor_locator(MultipleLocator(5))
    ax.yaxis.set_major_locator(MultipleLocator(100))
    ax.yaxis.set_minor_locator(MultipleLocator(20))
    ax.tick_params(which="both", direction="out", top=True, bottom=True, left=True, right=True, color="black")
    ax.tick_params(which="major", length=5.5, width=2.2)
    ax.tick_params(which="minor", length=3.0, width=1.4)
    ax.tick_params(axis="x", labelsize=11, pad=5, labelcolor="black")
    ax.tick_params(axis="y", labelleft=False, labelright=rlabels, labelsize=11, pad=1, labelcolor="black")
    ax.set_xlabel("")
    if ylabel:
        ax.set_ylabel("MRSO(kg/m2)", fontfamily="Liberation Serif", fontweight="bold",
                      fontsize=12.8, labelpad=9, color="black")
    else:
        ax.set_ylabel("")
    for sp in ax.spines.values():
        sp.set_visible(True)
        sp.set_linewidth(2.3)
    # region label in a box at lower right
    left, top, w, h = geom
    t = ax.text(0, 0, reg, fontfamily="Liberation Serif", fontweight="normal", fontsize=18.5,
                ha="center", va="baseline", transform=ax.transAxes, zorder=6)
    tw = t.get_window_extent(renderer=renderer).width
    rw, rh = tw + 16, 34
    rx1 = w - 1.5
    rx0 = rx1 - rw
    ry0 = 2.5
    ax.add_patch(Rectangle((rx0 / w, ry0 / h), rw / w, rh / h, transform=ax.transAxes,
                           facecolor="white", edgecolor="black", lw=1.3, zorder=5, clip_on=False))
    t.set_position(((rx0 + rw / 2) / w, (ry0 + 8.5) / h))


COL_L = [47.5, 474.5, 901]
for i, reg in enumerate(REGIONS[:21]):
    r, c = divmod(i, 3)
    geom = (COL_L[c], 15.7 + 179.9 * r, 371, 123.5)
    ax = add_ax(*geom)
    draw_panel(ax, reg, geom, ylabel=(c == 0), rlabels=(c == 2))

geom = (474, 1275, 372, 122)
ax = add_ax(*geom)
draw_panel(ax, "WORLD", geom, ylabel=True, rlabels=True)

# ---------------- legend ----------------
lax = fig.add_axes([0, 0, 1, 1], zorder=-1)
lax.set_xlim(0, W)
lax.set_ylim(H, 0)
lax.axis("off")
LEG_X = [(64, 205), (470, 597), (877, 1015)]
LEG_Y = [1484, 1544, 1603]
for i, (name, col, ls) in enumerate(zip(MODELS, COLORS, LEG_STYLES)):
    r, c = divmod(i, 3)
    x0, x1 = LEG_X[c]
    y = LEG_Y[r]
    lax.plot([x0, x1], [y, y], color=col, lw=2.6, linestyle=ls, solid_capstyle="butt", dash_capstyle="butt")
    lax.text(x1 + 2, y + 1, name, fontfamily="DejaVu Serif", fontstretch="condensed", fontweight="normal",
             fontsize=19, ha="left", va="center", color="black")

fig.savefig("out.png", dpi=100, facecolor="white")
